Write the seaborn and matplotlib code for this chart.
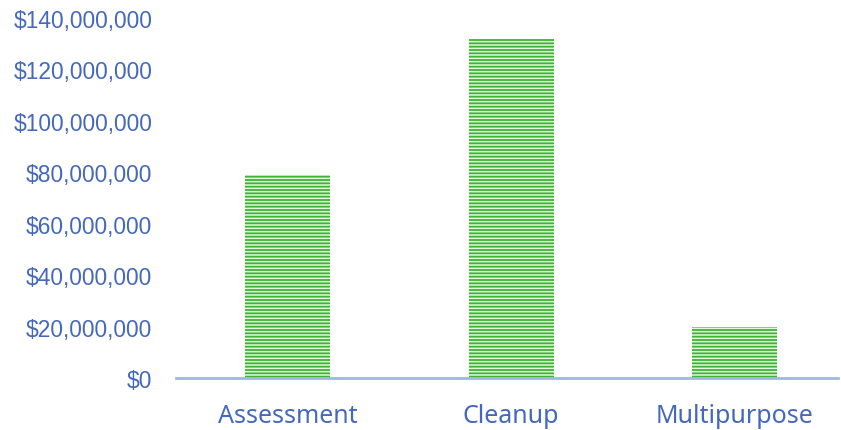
import pandas as pd
import seaborn as sns
import matplotlib.pyplot as plt
from matplotlib.ticker import FuncFormatter

categories = ["Assessment", "Cleanup", "Multipurpose"]
amounts = [79_000_000, 132_000_000, 20_000_000]

df = pd.DataFrame({"category": categories, "amount": amounts})

sns.set_style("white")
plt.rcParams["hatch.linewidth"] = 1.1

fig = plt.figure(figsize=(8.41, 4.31), dpi=100)
ax = fig.add_axes([176 / 841, 1 - 379 / 431, (838 - 176) / 841, (379 - 19) / 431])

sns.barplot(data=df, x="category", y="amount", color="#3cb434", width=0.38,
            saturation=1, ax=ax)

for p in ax.patches:
    p.set_hatch("-----")
    p.set_edgecolor("#e2f7dc")
    p.set_linewidth(0)

ax.set_xlim(-0.5, 2.462)
ax.set_ylim(0, 140_000_000)
ax.set_yticks(range(0, 140_000_001, 20_000_000))
ax.yaxis.set_major_formatter(FuncFormatter(lambda v, pos: f"${v:,.0f}"))
ax.set_xlabel("")
ax.set_ylabel("")

for s in ["top", "right", "left"]:
    ax.spines[s].set_visible(False)
ax.spines["bottom"].set_color("#9fb6e6")
ax.spines["bottom"].set_linewidth(2)

ax.tick_params(axis="y", length=0, pad=17, labelsize=16.4, labelcolor="#4468bc")
ax.tick_params(axis="x", length=0, pad=18, labelsize=18, labelcolor="#4468bc")
for lbl in ax.get_yticklabels():
    lbl.set_fontfamily("Liberation Sans")
for lbl in ax.get_xticklabels():
    lbl.set_fontfamily("Noto Sans")

plt.savefig("out.png", dpi=100)
